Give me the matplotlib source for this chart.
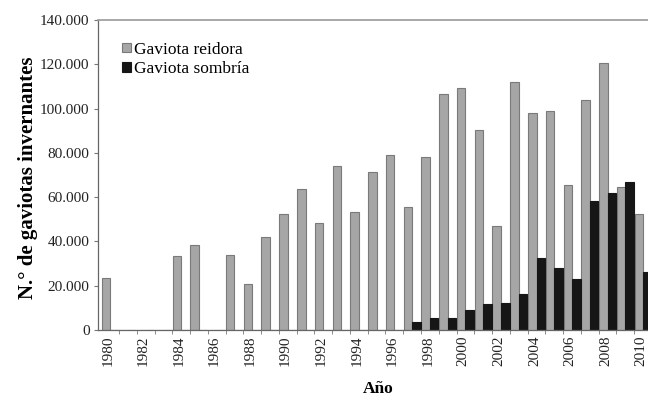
import matplotlib
matplotlib.use("Agg")
import matplotlib.pyplot as plt
from matplotlib.ticker import FuncFormatter, MultipleLocator
import numpy as np

years = list(range(1980, 2011))
# wintering counts per year (0 = no count / no bar)
reidora = [23300, 0, 0, 0, 33600, 38400, 0, 33900, 20600, 41800,
           52400, 63800, 48400, 74000, 53400, 71500, 79000, 55700, 78300, 106400,
           109400, 90300, 47100, 111800, 97800, 99000, 65500, 103900, 120700, 64400,
           52400]
sombria = [0, 0, 0, 0, 0, 0, 0, 0, 0, 0,
           0, 0, 0, 0, 0, 0, 0, 3800, 5200, 5200,
           9000, 11700, 12000, 16100, 32400, 27900, 23000, 58400, 61700, 67000,
           26300]
series_names = ["Gaviota reidora", "Gaviota sombría"]
tick_years = years[::2]

plt.rcParams['font.family'] = ['Liberation Serif', 'DejaVu Serif']

fig = plt.figure(figsize=(6.48, 4.0), dpi=100)
ax = fig.add_axes([98 / 648, 70 / 400, 554 / 648, 310 / 400])

x = np.array(years, dtype=float)
w = 0.48
ax.bar(x - w / 2, reidora, width=w, color="#a6a6a6", edgecolor="#7a7a7a",
       linewidth=0.8, label=series_names[0])
ax.bar(x + w / 2, sombria, width=w, color="#161616", edgecolor="#161616",
       linewidth=0.8, label=series_names[1])

ax.set_xlim(1979.32, 2010.5)
ax.set_ylim(0, 140000)

ax.yaxis.set_major_locator(MultipleLocator(20000))
ax.yaxis.set_major_formatter(FuncFormatter(
    lambda v, p: f"{int(v):,}".replace(",", ".")))
# labels sit a touch left of the group centre, as in the original
ax.set_xticks([y - 0.12 for y in tick_years])
ax.set_xticklabels([str(y) for y in tick_years], rotation=90)
ax.set_xticks([y + 0.5 for y in years[:-1]], minor=True)

ax.tick_params(axis="x", which="major", length=0, pad=4,
               labelsize=11, labelcolor="#222222")
ax.tick_params(axis="x", which="minor", length=3, color="#777777")
ax.tick_params(axis="y", length=3, color="#777777", pad=3,
               labelsize=11, labelcolor="#222222")

for side in ["left", "bottom"]:
    ax.spines[side].set_color("#666666")
    ax.spines[side].set_linewidth(0.9)
ax.spines["top"].set_color("#9a9a9a")
ax.spines["top"].set_linewidth(1.2)
ax.spines["right"].set_visible(False)

ax.set_ylabel("N.° de gaviotas invernantes", fontsize=15, fontweight="bold")
ax.yaxis.set_label_coords(-0.108, 0.49)
ax.set_xlabel("Año", fontsize=12.5, fontweight="bold")
ax.xaxis.set_label_coords(0.505, -0.165)

ax.legend(loc="upper left", bbox_to_anchor=(0.043, 0.93), frameon=False,
          fontsize=12.5, handlelength=0.5, handleheight=0.5, handletextpad=0.2,
          labelspacing=0.2, borderpad=0, borderaxespad=0)

fig.savefig("out.png", dpi=100)
